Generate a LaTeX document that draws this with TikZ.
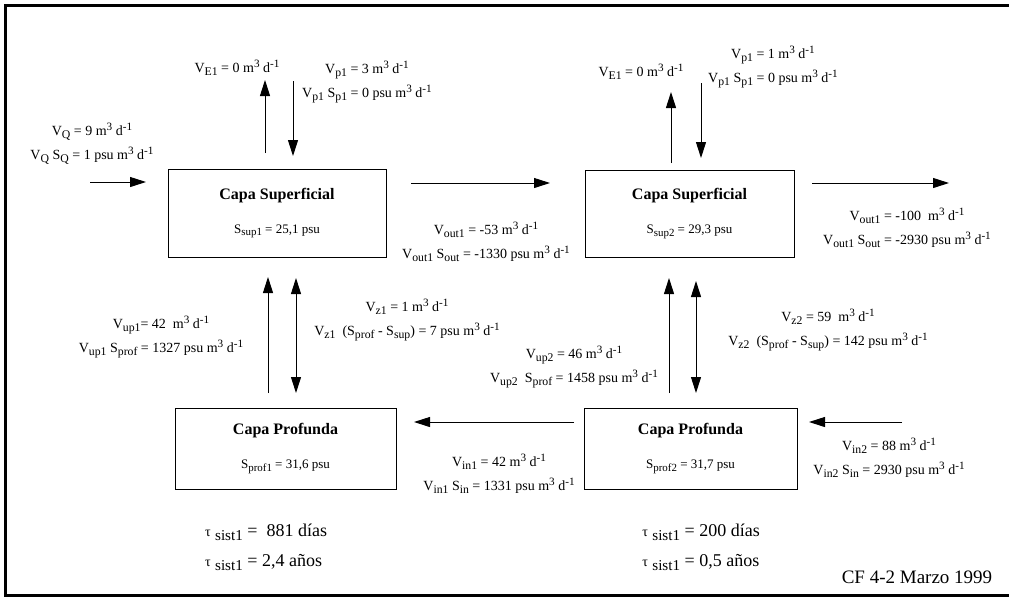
\documentclass[tikz,border=0pt]{standalone}
\usepackage{fontspec}
\usepackage{graphicx}
\setmainfont{Liberation Serif}
\usetikzlibrary{arrows.meta}
\newcommand{\lowr}[1]{\raisebox{-0.45ex}{\scalebox{0.84}{#1}}}
\newcommand{\uppr}[1]{\raisebox{0.8ex}{\scalebox{0.8}{#1}}}
\newcommand{\mcd}{m\uppr{3} d\uppr{-1}}

\begin{document}
\begin{tikzpicture}[x=1pt,y=-1pt,
  box/.style={draw,line width=1pt,inner sep=0pt,align=center,font=\fontsize{13}{17}\selectfont},
  flow/.style={-{Triangle[length=16pt,width=10pt]},line width=1pt},
  both/.style={{Triangle[length=16pt,width=10pt]}-{Triangle[length=16pt,width=10pt]},line width=1pt},
  lbl/.style={align=center,inner sep=0pt,font=\fontsize{14}{24}\selectfont},
  tau/.style={align=left,inner sep=0pt,font=\fontsize{18}{30}\selectfont}]
  \useasboundingbox (0,0) rectangle (1009,598);
  \draw[line width=2.5pt] (5.5,5.5) rectangle (1020,595.5);

  % capas
  \node[box,minimum width=218pt,minimum height=88pt] (sup1) at (277,213)
    {{\fontsize{16}{17}\selectfont\bfseries Capa Superficial}\\[17pt] S\lowr{sup1} = 25,1 psu};
  \node[box,minimum width=209pt,minimum height=87pt] (sup2) at (689.5,213.5)
    {{\fontsize{16}{17}\selectfont\bfseries Capa Superficial}\\[17pt] S\lowr{sup2} = 29,3 psu};
  \node[box,minimum width=221pt,minimum height=81pt] (prof1) at (285.5,448.5)
    {{\fontsize{16}{17}\selectfont\bfseries Capa Profunda}\\[17pt] S\lowr{prof1} = 31,6 psu};
  \node[box,minimum width=213pt,minimum height=81pt] (prof2) at (690.5,448.5)
    {{\fontsize{16}{17}\selectfont\bfseries Capa Profunda}\\[17pt] S\lowr{prof2} = 31,7 psu};

  % extremos de las flechas
  \coordinate (qa) at (90,182);    \coordinate (qb) at (146,182);
  \coordinate (e1a) at (265,153);  \coordinate (e1b) at (265,80);
  \coordinate (p1a) at (293,81);   \coordinate (p1b) at (293,156);
  \coordinate (o1a) at (411,183);  \coordinate (o1b) at (550,183);
  \coordinate (e2a) at (671,163);  \coordinate (e2b) at (671,92);
  \coordinate (p2a) at (701,83);   \coordinate (p2b) at (701,158);
  \coordinate (o2a) at (812,183);  \coordinate (o2b) at (949,183);
  \coordinate (u1a) at (268,393);  \coordinate (u1b) at (268,277);
  \coordinate (z1a) at (296,278);  \coordinate (z1b) at (296,393);
  \coordinate (u2a) at (669,393);  \coordinate (u2b) at (669,278);
  \coordinate (z2a) at (696,281);  \coordinate (z2b) at (696,393);
  \coordinate (i1a) at (574,422);  \coordinate (i1b) at (414,422);
  \coordinate (i2a) at (902,422);  \coordinate (i2b) at (809,422);

  \draw[flow] (qa) -- (qb);
  \draw[flow] (e1a) -- (e1b);
  \draw[flow] (p1a) -- (p1b);
  \draw[flow] (o1a) -- (o1b);
  \draw[flow] (e2a) -- (e2b);
  \draw[flow] (p2a) -- (p2b);
  \draw[flow] (o2a) -- (o2b);
  \draw[flow] (u1a) -- (u1b);
  \draw[both] (z1a) -- (z1b);
  \draw[flow] (u2a) -- (u2b);
  \draw[both] (z2a) -- (z2b);
  \draw[flow] (i1a) -- (i1b);
  \draw[flow] (i2a) -- (i2b);

  % flujos
  \node[lbl] (lq) at (92,144) {V\lowr{Q} = 9 \mcd\\ V\lowr{Q} S\lowr{Q} = 1 psu \mcd};
  \node[lbl] (le1) at (237,68) {V\lowr{E1} = 0 \mcd};
  \node[lbl] (lp1) at (367,82) {V\lowr{p1} = 3 \mcd\\ V\lowr{p1} S\lowr{p1} = 0 psu \mcd};
  \node[lbl] (le2) at (641,72) {V\lowr{E1} = 0 \mcd};
  \node[lbl] (lp2) at (773,67) {V\lowr{p1} = 1 \mcd\\ V\lowr{p1} S\lowr{p1} = 0 psu \mcd};
  \node[lbl] (lo1) at (486,242) {V\lowr{out1} = -53 \mcd\\ V\lowr{out1} S\lowr{out} = -1330 psu \mcd};
  \node[lbl] (lo2) at (907,228) {V\lowr{out1} = -100 \ \mcd\\ V\lowr{out1} S\lowr{out} = -2930 psu \mcd};
  \node[lbl] (lu1) at (161,337) {V\lowr{up1}= 42 \ \mcd\\ V\lowr{up1} S\lowr{prof} = 1327 psu \mcd};
  \node[lbl] (lz1) at (407,320) {V\lowr{z1} = 1 \mcd\\ V\lowr{z1} \ (S\lowr{prof} - S\lowr{sup}) = 7 psu \mcd};
  \node[lbl] (lu2) at (574,367) {V\lowr{up2} = 46 \mcd\\ V\lowr{up2} \ S\lowr{prof} = 1458 psu \mcd};
  \node[lbl] (lz2) at (828,330) {V\lowr{z2} = 59 \ \mcd\\ V\lowr{z2} \ (S\lowr{prof} - S\lowr{sup}) = 142 psu \mcd};
  \node[lbl] (li1) at (499,474) {V\lowr{in1} = 42 \mcd\\ V\lowr{in1} S\lowr{in} = 1331 psu \mcd};
  \node[lbl] (li2) at (889,458) {V\lowr{in2} = 88 \mcd\\ V\lowr{in2} S\lowr{in} = 2930 psu \mcd};

  % tiempos de residencia
  \node[tau] (t1) at (266,547) {{\fontsize{14}{14}\selectfont τ} \lowr{sist1} = \ 881 días\\ {\fontsize{14}{14}\selectfont τ} \lowr{sist1} = 2,4 años};
  \node[tau] (t2) at (701,547) {{\fontsize{14}{14}\selectfont τ} \lowr{sist1} = 200 días\\ {\fontsize{14}{14}\selectfont τ} \lowr{sist1} = 0,5 años};
  \node[inner sep=0pt,font=\fontsize{19}{19}\selectfont] (cf) at (917,577) {CF 4-2 Marzo 1999};
\end{tikzpicture}
\end{document}
